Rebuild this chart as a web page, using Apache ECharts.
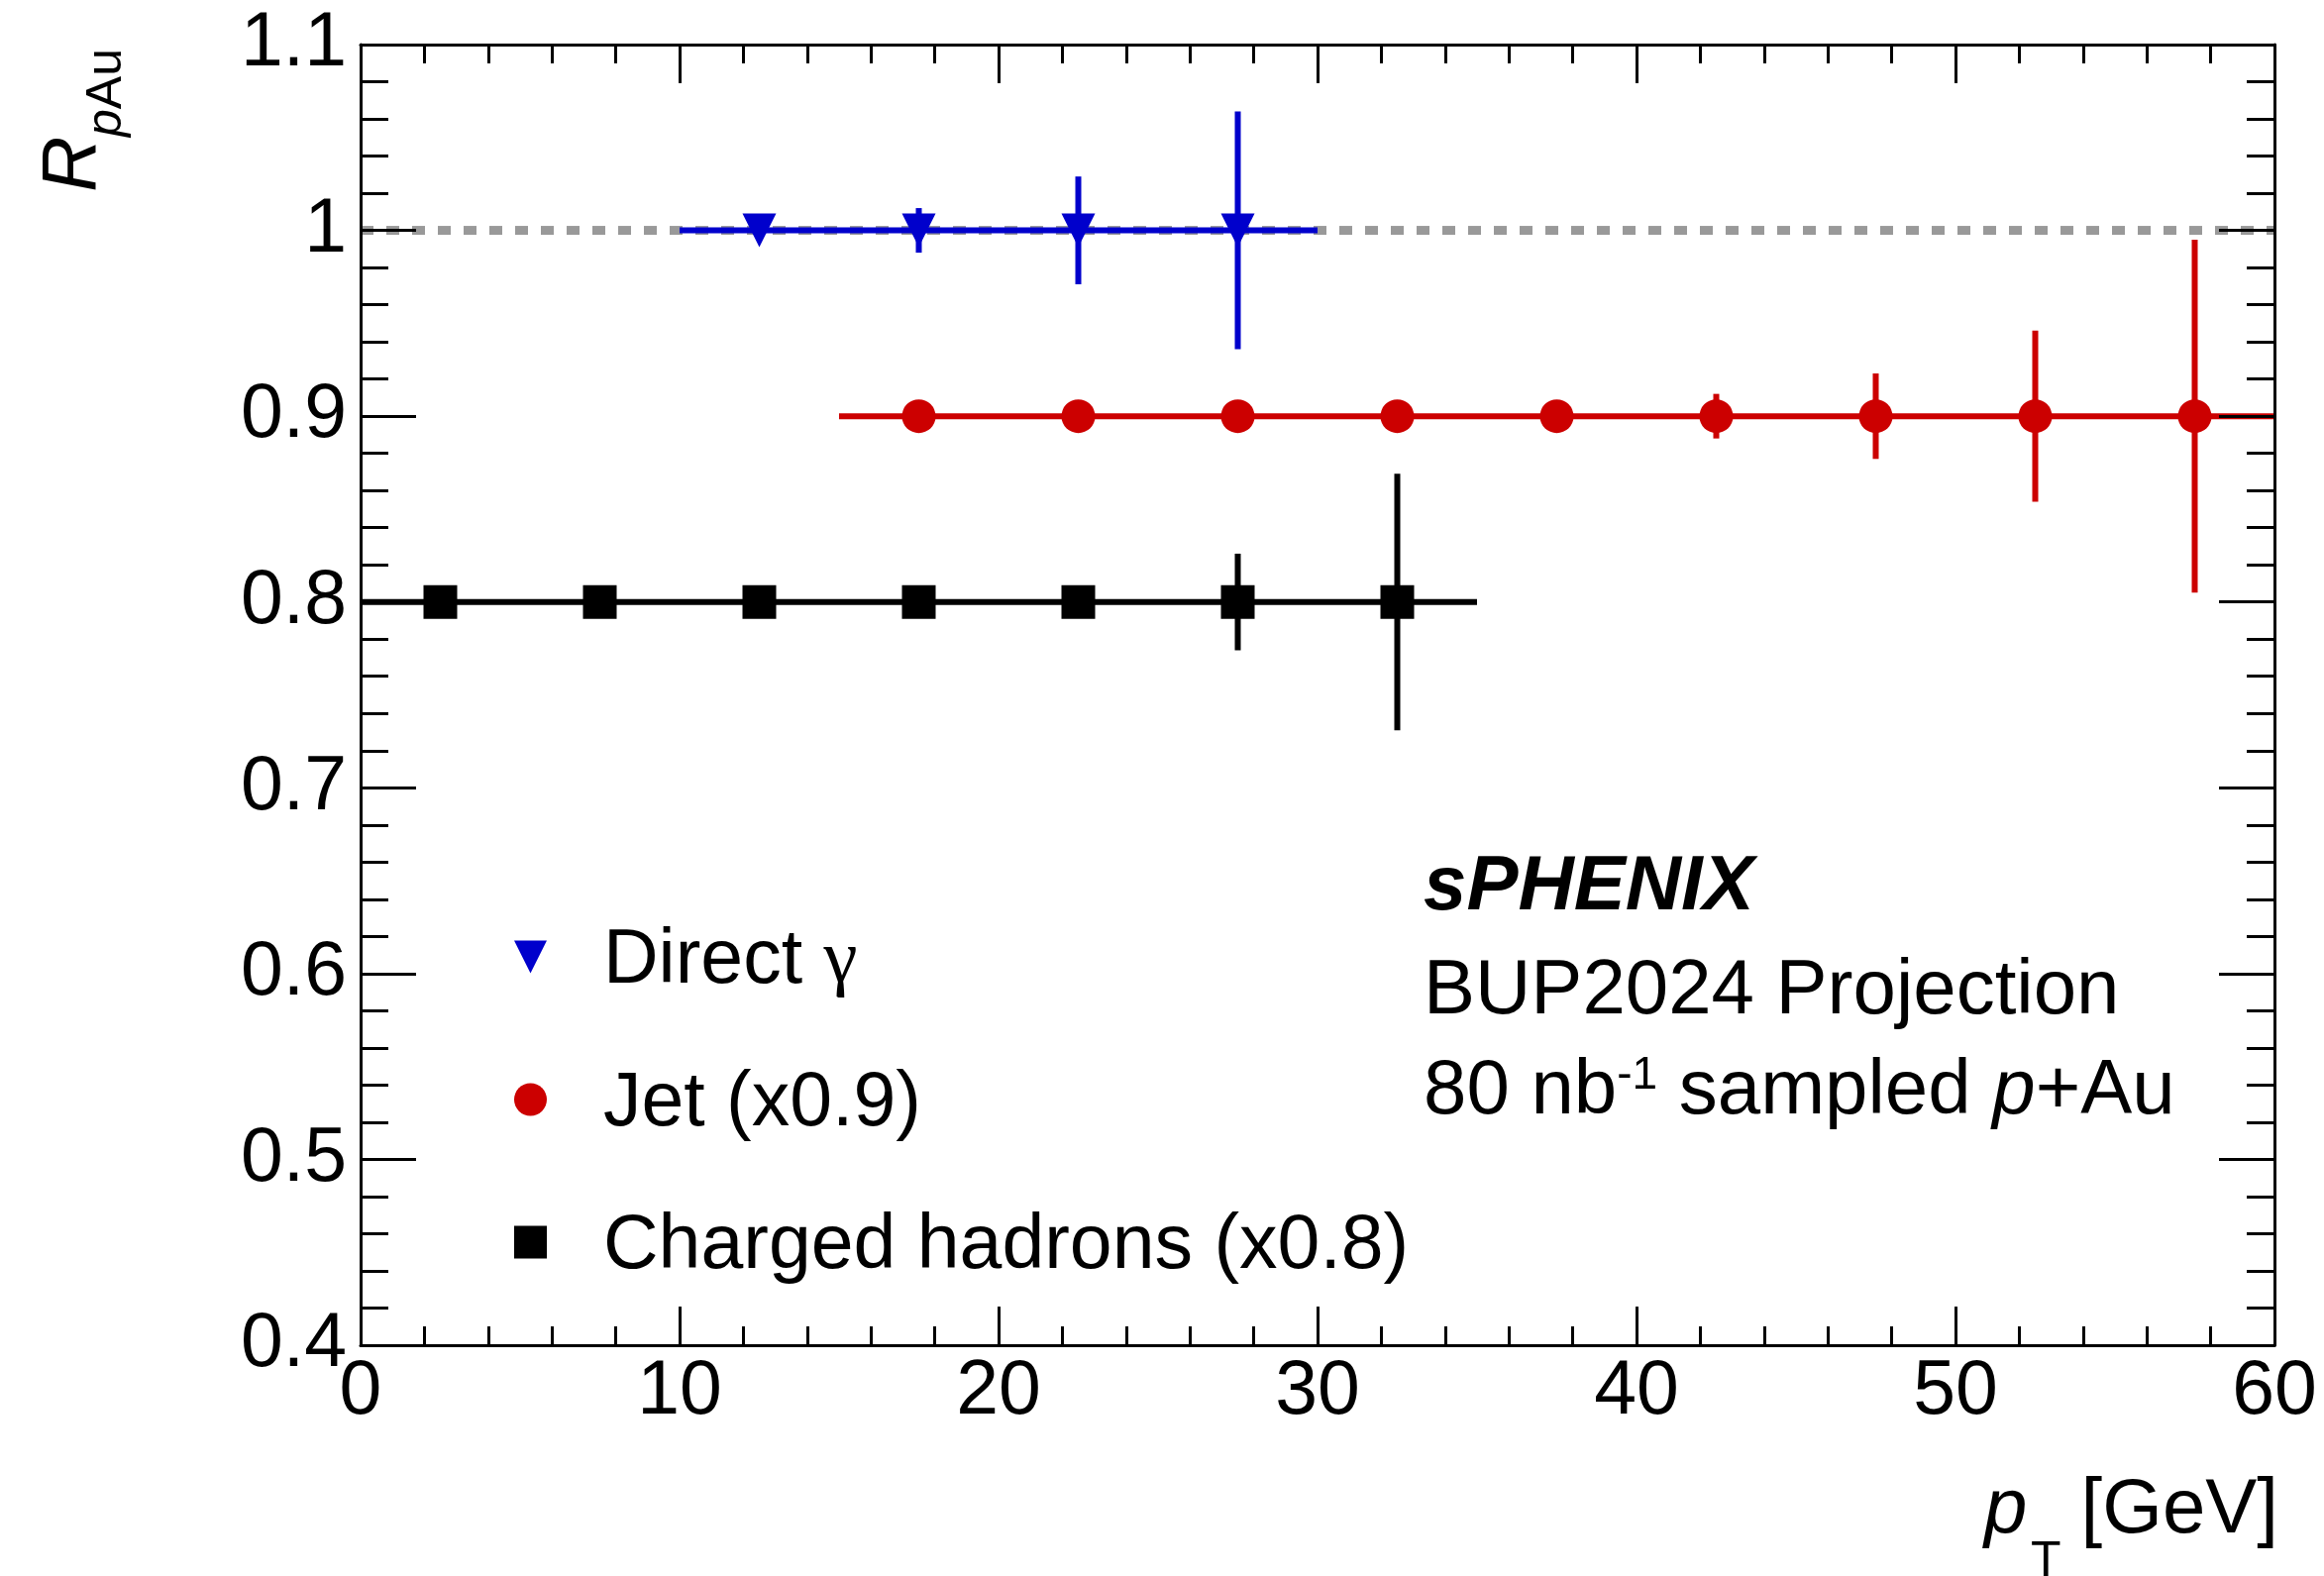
<!DOCTYPE html>
<html>
<head>
<meta charset="utf-8">
<script src="https://cdn.jsdelivr.net/npm/echarts@6/dist/echarts.min.js"></script>
<style>
  html, body { margin: 0; padding: 0; background: #fff; }
  #main { width: 2346px; height: 1591px; }
</style>
</head>
<body>
<div id="main"></div>
<script>
// pT bin centres, R_pAu values (already scaled) and vertical errors
var gammaX = [12.5, 17.5, 22.5, 27.5];
var gammaY = [1.0, 1.0, 1.0, 1.0];
var gammaErr = [0.004, 0.012, 0.029, 0.064];

var jetX = [17.5, 22.5, 27.5, 32.5, 37.5, 42.5, 47.5, 52.5, 57.5];
var jetY = [0.9, 0.9, 0.9, 0.9, 0.9, 0.9, 0.9, 0.9, 0.9];
var jetErr = [0.002, 0.003, 0.004, 0.005, 0.007, 0.012, 0.023, 0.046, 0.095];

var hadX = [2.5, 7.5, 12.5, 17.5, 22.5, 27.5, 32.5];
var hadY = [0.8, 0.8, 0.8, 0.8, 0.8, 0.8, 0.8];
var hadErr = [0.001, 0.002, 0.003, 0.004, 0.006, 0.026, 0.069];

var binHalfWidth = 2.5;
var unityLine = [[0, 1], [60, 1]];

var FONT = '"Liberation Sans", Arial, Helvetica, sans-serif';
var BLUE = '#0000cc', RED = '#cc0000', BLACK = '#000000';

function points(xs, ys) {
    return xs.map(function (x, i) { return [x, ys[i]]; });
}
function withErrors(xs, ys, es) {
    return xs.map(function (x, i) { return [x, ys[i], binHalfWidth, es[i]]; });
}

// draws the horizontal bin bar and the vertical error bar of one point
function errorBars(color) {
    return function (params, api) {
        var x = api.value(0), y = api.value(1), ex = api.value(2), ey = api.value(3);
        var l = api.coord([x - ex, y]), r = api.coord([x + ex, y]);
        var t = api.coord([x, y + ey]), b = api.coord([x, y - ey]);
        var style = {stroke: color, lineWidth: 6, fill: null};
        return {
            type: 'group',
            children: [
                {type: 'line', shape: {x1: l[0], y1: l[1], x2: r[0], y2: r[1]}, style: style},
                {type: 'line', shape: {x1: t[0], y1: t[1], x2: b[0], y2: b[1]}, style: style}
            ]
        };
    };
}

function xAxisOf(pos, labels) {
    return {
        type: 'value', position: pos, min: 0, max: 60, interval: 10, z: 5,
        axisLine: {show: true, onZero: false, lineStyle: {color: BLACK, width: 3}},
        axisTick: {show: true, inside: true, length: 39, lineStyle: {color: BLACK, width: 3}},
        minorTick: {show: true, splitNumber: 5, length: 19, lineStyle: {color: BLACK, width: 3}},
        axisLabel: {show: labels, margin: 9, fontSize: 77, lineHeight: 77, fontFamily: FONT, color: BLACK,
                    showMinLabel: true, showMaxLabel: true},
        splitLine: {show: false}, minorSplitLine: {show: false}
    };
}
function yAxisOf(pos, labels) {
    return {
        type: 'value', position: pos, min: 0.4, max: 1.1, interval: 0.1, z: 5,
        axisLine: {show: true, onZero: false, lineStyle: {color: BLACK, width: 3}},
        axisTick: {show: true, inside: true, length: 56, lineStyle: {color: BLACK, width: 3}},
        minorTick: {show: true, splitNumber: 5, length: 28, lineStyle: {color: BLACK, width: 3}},
        axisLabel: {show: labels, margin: 14, fontSize: 77, lineHeight: 77, fontFamily: FONT, color: BLACK,
                    showMinLabel: true, showMaxLabel: true},
        splitLine: {show: false}, minorSplitLine: {show: false}
    };
}

var chart = echarts.init(document.getElementById('main'));

var option = {
    animation: false,
    backgroundColor: '#ffffff',
    grid: {left: 364, right: 50, top: 45, bottom: 233, containLabel: false, outerBoundsMode: 'none'},
    xAxis: [xAxisOf('bottom', true), xAxisOf('top', false)],
    yAxis: [yAxisOf('left', true), yAxisOf('right', false)],
    legend: {
        orient: 'vertical', left: 519, top: 923, padding: 0,
        itemWidth: 33, itemHeight: 33, itemGap: 58,
        selectedMode: false,
        itemStyle: {opacity: 1},
        textStyle: {
            fontFamily: FONT, fontSize: 77, lineHeight: 77, color: BLACK, padding: [9, 0, 0, 52],
            rich: {
                g: {fontFamily: '"Liberation Serif", "Times New Roman", serif', fontSize: 77, lineHeight: 77, color: BLACK}
            }
        },
        formatter: function (name) {
            return name === 'Direct γ' ? 'Direct {g|γ}' : name;
        },
        data: [
            {name: 'Direct γ', icon: 'path://M0,0L2,0L1,2Z'},
            {name: 'Jet (x0.9)', icon: 'circle'},
            {name: 'Charged hadrons (x0.8)', icon: 'rect'}
        ]
    },
    graphic: [
        {type: 'text', x: 74, y: 194, rotation: Math.PI / 2, silent: true,
         style: {text: 'R', fontFamily: FONT, fontStyle: 'italic', fontSize: 78, fill: BLACK,
                 align: 'left', verticalAlign: 'middle'}},
        {type: 'text', x: 108, y: 138, rotation: Math.PI / 2, silent: true,
         style: {text: '{i|p}{n|Au}', fontFamily: FONT, fontSize: 50, fill: BLACK,
                 align: 'left', verticalAlign: 'middle',
                 rich: {i: {fontFamily: FONT, fontStyle: 'italic', fontSize: 50, fill: BLACK},
                        n: {fontFamily: FONT, fontSize: 50, fill: BLACK}}}},
        {type: 'text', x: 2003, y: 1525, silent: true,
         style: {text: 'p', fontFamily: FONT, fontStyle: 'italic', fontSize: 78, fill: BLACK,
                 align: 'left', verticalAlign: 'middle'}},
        {type: 'text', x: 2050, y: 1577, silent: true,
         style: {text: 'T', fontFamily: FONT, fontSize: 50, fill: BLACK,
                 align: 'left', verticalAlign: 'middle'}},
        {type: 'text', x: 2300, y: 1525, silent: true,
         style: {text: '[GeV]', fontFamily: FONT, fontSize: 78, fill: BLACK,
                 align: 'right', verticalAlign: 'middle'}},
        {type: 'text', x: 1437, y: 896, silent: true,
         style: {text: 'sPHENIX', fontFamily: FONT, fontStyle: 'italic', fontWeight: 'bold', fontSize: 78,
                 fill: BLACK, align: 'left', verticalAlign: 'middle'}},
        {type: 'text', x: 1437, y: 1001, silent: true,
         style: {text: 'BUP2024 Projection', fontFamily: FONT, fontSize: 78, fill: BLACK,
                 align: 'left', verticalAlign: 'middle'}},
        {type: 'text', x: 1437, y: 1102, silent: true,
         style: {text: '{n|80 nb}{sup|-1}{n| sampled }{i|p}{n|+Au}', fontFamily: FONT, fontSize: 78,
                 lineHeight: 78, fill: BLACK, align: 'left', verticalAlign: 'middle',
                 rich: {
                     n: {fontFamily: FONT, fontSize: 78, lineHeight: 78, fill: BLACK},
                     i: {fontFamily: FONT, fontStyle: 'italic', fontSize: 78, lineHeight: 78, fill: BLACK},
                     sup: {fontFamily: FONT, fontSize: 46, lineHeight: 32, verticalAlign: 'top', fill: BLACK}
                 }}}
    ],
    series: [
        {
            name: 'unity', type: 'line', data: unityLine, symbol: 'none', silent: true, z: 1,
            lineStyle: {color: '#999999', width: 9, type: [13, 13], cap: 'butt'}
        },
        {name: 'gammaErr', type: 'custom', renderItem: errorBars(BLUE), z: 2,
         encode: {x: 0, y: 1}, data: withErrors(gammaX, gammaY, gammaErr)},
        {name: 'jetErr', type: 'custom', renderItem: errorBars(RED), z: 2,
         encode: {x: 0, y: 1}, data: withErrors(jetX, jetY, jetErr)},
        {name: 'hadErr', type: 'custom', renderItem: errorBars(BLACK), z: 2,
         encode: {x: 0, y: 1}, data: withErrors(hadX, hadY, hadErr)},
        {name: 'Direct γ', type: 'scatter', symbol: 'triangle', symbolRotate: 180, symbolSize: 34, z: 3,
         itemStyle: {color: BLUE, opacity: 1}, data: points(gammaX, gammaY)},
        {name: 'Jet (x0.9)', type: 'scatter', symbol: 'circle', symbolSize: 34, z: 3,
         itemStyle: {color: RED, opacity: 1}, data: points(jetX, jetY)},
        {name: 'Charged hadrons (x0.8)', type: 'scatter', symbol: 'rect', symbolSize: 34, z: 3,
         itemStyle: {color: BLACK, opacity: 1}, data: points(hadX, hadY)}
    ]
};

chart.setOption(option);
</script>
</body>
</html>
